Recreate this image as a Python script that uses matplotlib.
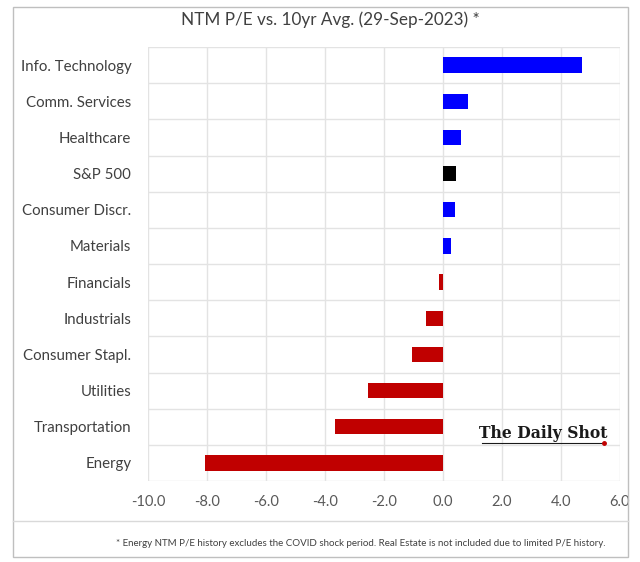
import matplotlib.pyplot as plt
from matplotlib.patches import Rectangle
from matplotlib.lines import Line2D

# Daten (von oben nach unten)
sectors = ['Info. Technology', 'Comm. Services', 'Healthcare', 'S&P 500',
           'Consumer Discr.', 'Materials', 'Financials', 'Industrials',
           'Consumer Stapl.', 'Utilities', 'Transportation', 'Energy']
values = [4.70, 0.86, 0.62, 0.44, 0.42, 0.27, -0.14, -0.58, -1.04, -2.54, -3.66, -8.07]
x_ticks = [-10.0, -8.0, -6.0, -4.0, -2.0, 0.0, 2.0, 4.0, 6.0]

def bar_color(name, v):
    if name == 'S&P 500':
        return '#000000'
    return '#0000FF' if v > 0 else '#C00000'

plt.rcParams['font.family'] = ['Lato', 'DejaVu Sans']

fig = plt.figure(figsize=(6.4, 5.62), dpi=100)
W, H = 640, 562

# Rahmen um die ganze Grafik und Trennlinie zur Fussnote
fig.patches.append(Rectangle((13 / W, 1 - 557 / H), 615 / W, 550 / H, transform=fig.transFigure,
                             fill=False, edgecolor='#bfbfbf', linewidth=1.0))
fig.lines.append(Line2D([13 / W, 628 / W], [1 - 521 / H, 1 - 521 / H], transform=fig.transFigure,
                        color='#d9d9d9', linewidth=1.0))

ax = fig.add_axes([148 / W, 1 - 481 / H, 472 / W, 434 / H])

ypos = list(range(len(sectors)))[::-1]
colors = [bar_color(n, v) for n, v in zip(sectors, values)]
ax.barh(ypos, values, height=0.42, color=colors, zorder=3)

ax.set_xlim(-10, 6)
ax.set_ylim(-0.5, len(sectors) - 0.5)
ax.set_xticks(x_ticks)
ax.set_xticklabels([f'{t:.1f}' for t in x_ticks], color='#595959', fontsize=10.5)
ax.set_yticks(ypos)
ax.set_yticklabels(sectors, color='#404040', fontsize=10.8)
ax.tick_params(axis='x', length=0, pad=10)
ax.tick_params(axis='y', length=0, pad=12)

# Gitterlinien
for t in x_ticks:
    ax.axvline(t, color='#e3e3e3', linewidth=1.0, zorder=1)
for k in range(len(sectors) + 1):
    ax.axhline(k - 0.5, color='#e3e3e3', linewidth=1.0, zorder=1)
for s in ax.spines.values():
    s.set_visible(False)

fig.text(330 / W, 1 - 20 / H, 'NTM P/E vs. 10yr Avg. (29-Sep-2023) *', ha='center', va='center',
         fontsize=12.3, color='#404040')

fig.text(361 / W, 1 - 544 / H,
         '* Energy NTM P/E history excludes the COVID shock period. Real Estate is not included due to limited P/E history.',
         ha='center', va='center', fontsize=7.0, color='#404040')

# Logo
fig.text(543 / W, 1 - 433 / H, 'The Daily Shot', ha='center', va='center', fontsize=12.5,
         family='DejaVu Serif', weight='bold', stretch='condensed', color='#1a1a1a')
fig.lines.append(Line2D([482 / W, 604 / W], [1 - 443 / H, 1 - 443 / H], transform=fig.transFigure,
                        color='#1a1a1a', linewidth=0.8))
fig.lines.append(Line2D([604 / W], [1 - 443 / H], transform=fig.transFigure, marker='o',
                        markersize=2.5, color='#C00000'))

fig.savefig('out.png', dpi=100)
